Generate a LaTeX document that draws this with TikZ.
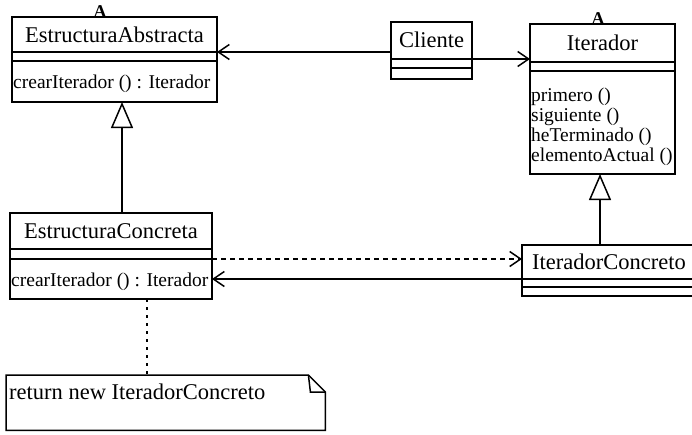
\documentclass[tikz,border=0pt]{standalone}
\usepackage{fontspec}
\setmainfont{Liberation Serif}
\usetikzlibrary{arrows.meta,calc}
\begin{document}
\begin{tikzpicture}[x=1pt,y=-1pt,
  box/.style={draw, line width=1.5pt, rectangle, anchor=north west, inner sep=0pt, outer sep=0pt},
  rule/.style={line width=1.5pt},
  cname/.style={font=\fontsize{22.5}{25}\selectfont, inner sep=0pt},
  op/.style={font=\fontsize{19.5}{21}\selectfont, inner sep=0pt, anchor=west},
  abs/.style={font=\fontsize{18}{19}\bfseries\selectfont, inner sep=0pt, anchor=base},
  assoc/.style={line width=1.5pt, -{Straight Barb[length=11pt,width=15pt,line width=1.5pt]}},
  inherit/.style={line width=1.5pt, -{Triangle[open,length=26pt,width=22pt,fill=white,line width=1.5pt]}},
  dep/.style={assoc, dash pattern=on 5pt off 4pt},
  noteline/.style={line width=1.5pt, dash pattern=on 3pt off 5pt},
]
\useasboundingbox (0,0) rectangle (692,434);

% EstructuraAbstracta
\node[box, minimum width=205pt, minimum height=85pt] (ea) at (12,17) {};
\draw[rule] (ea.west |- 0,52) -- (ea.east |- 0,52) coordinate (ea-d1);
\draw[rule] (ea.west |- 0,61) -- (ea.east |- 0,61);
\node[cname] (ea-name) at (114.5,34.5) {EstructuraAbstracta};
\node[op] (ea-op) at (13,84) {crearIterador () : Iterador};
\node[abs] (ea-a) at (100,17.5) {A};

% Cliente
\node[box, minimum width=81pt, minimum height=57pt] (cli) at (391,22) {};
\draw[rule] (cli.west |- 0,59) -- (cli.east |- 0,59) coordinate (cli-d1);
\draw[rule] (cli.west |- 0,68) -- (cli.east |- 0,68);
\node[cname] (cli-name) at (431.5,40) {Cliente};

% Iterador
\node[box, minimum width=145pt, minimum height=150pt] (it) at (530,24) {};
\draw[rule] (it.west |- 0,62) -- (it.east |- 0,62);
\draw[rule] (it.west |- 0,71) -- (it.east |- 0,71);
\node[cname] (it-name) at (602.5,43) {Iterador};
\node[op] (it-op1) at (531,97) {primero ()};
\node[op] (it-op2) at (531,117) {siguiente ()};
\node[op] (it-op3) at (531,137) {heTerminado ()};
\node[op] (it-op4) at (531,157) {elementoActual ()};
\node[abs] (it-a) at (598,24.5) {A};

% EstructuraConcreta
\node[box, minimum width=202pt, minimum height=86pt] (ec) at (10,213) {};
\draw[rule] (ec.west |- 0,249) -- (ec.east |- 0,249);
\draw[rule] (ec.west |- 0,259) -- (ec.east |- 0,259) coordinate (ec-d2);
\node[cname] (ec-name) at (111,231) {EstructuraConcreta};
\node[op] (ec-op) at (11,282) {crearIterador () : Iterador};

% IteradorConcreto (runs past the right edge)
\node[box, minimum width=190pt, minimum height=51pt] (ic) at (522,245) {};
\draw[rule] (ic.west |- 0,279) coordinate (ic-d1) -- (ic.east |- 0,279);
\draw[rule] (ic.west |- 0,287) -- (ic.east |- 0,287);
\node[cname, anchor=west] (ic-name) at (532,262) {IteradorConcreto};

% Note
\node[inner sep=0pt, minimum width=319pt, minimum height=55pt, anchor=north west] (note) at (6,375) {};
\draw[rule] (note.north west) -- ($(note.north east)+(-17,0)$) -- ($(note.north east)+(0,17)$)
  -- (note.south east) -- (note.south west) -- cycle;
\draw[rule] ($(note.north east)+(-17,0)$) -- ($(note.north east)+(-15,17)$) -- ($(note.north east)+(0,17)$);
\node[cname, anchor=west] (note-text) at (9,392) {return new IteradorConcreto};

% Connectors
\draw[assoc] (cli.west |- ea-d1) -- (ea-d1);
\draw[assoc] (cli-d1) -- (it.west |- cli-d1);
\draw[inherit] ([xshift=7.5pt]ea.south |- ec.north) -- ([xshift=7.5pt]ea.south);
\draw[inherit] ([xshift=-2.5pt]it.south |- ic.north) -- ([xshift=-2.5pt]it.south);
\draw[dep] (ec-d2) -- (ic.west |- ec-d2);
\draw[assoc] (ic-d1) -- (ec.east |- ic-d1);
\draw[noteline] ([xshift=36pt]ec.south) -- ([xshift=36pt]ec.south |- note.north);
\end{tikzpicture}
\end{document}
